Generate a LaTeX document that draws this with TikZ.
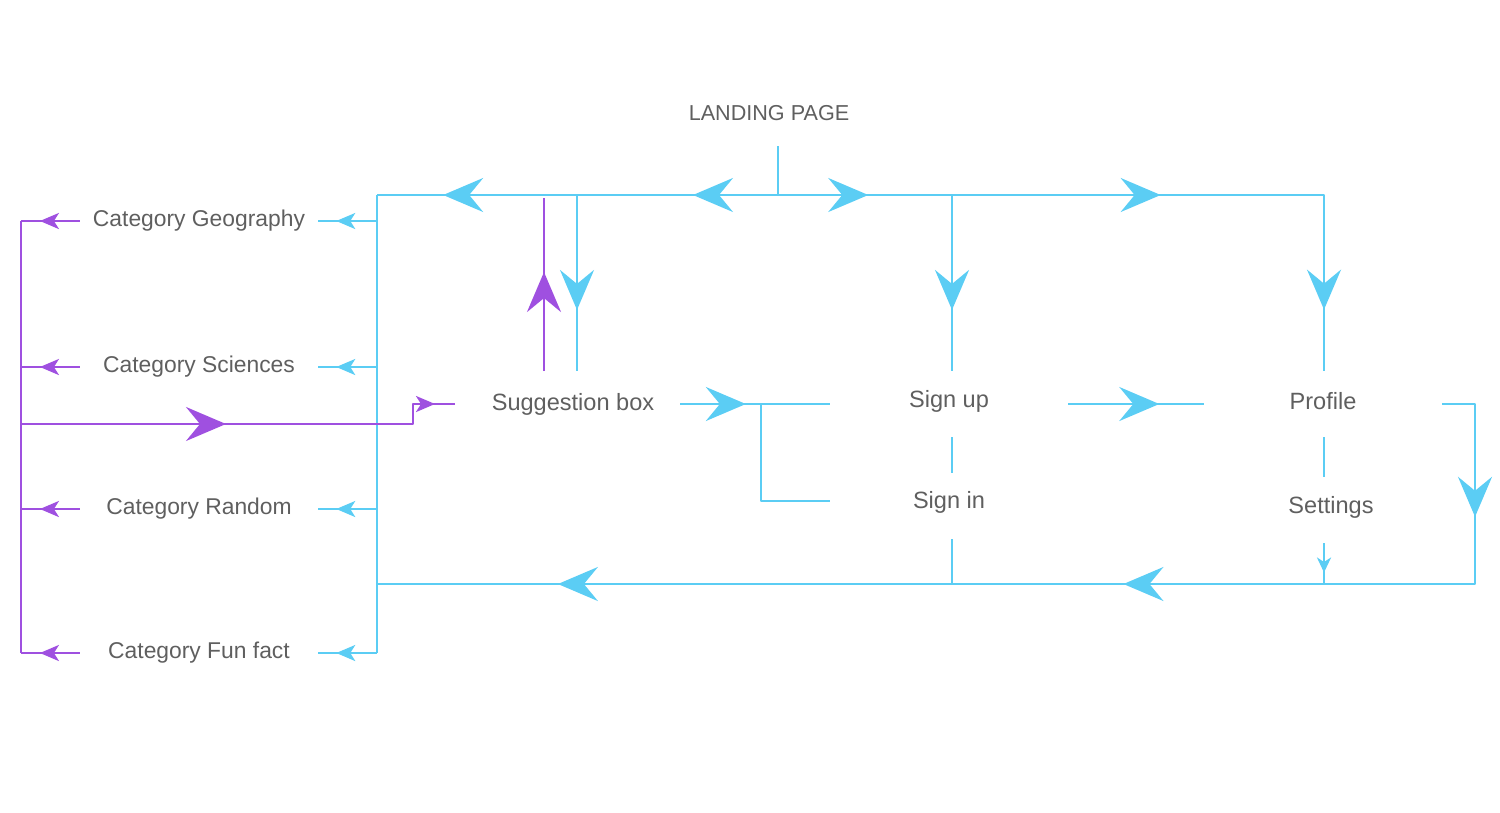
\documentclass[tikz,border=0pt]{standalone}
\usepackage{fontspec}
\setmainfont{Liberation Sans}
\usetikzlibrary{arrows.meta,decorations.markings,calc}
\definecolor{cB}{HTML}{5BCDF4}
\definecolor{cP}{HTML}{9F50E0}
\definecolor{txt}{HTML}{5F5F5F}
\tikzset{
  Big/.tip={Stealth[length=0.8cm,width=0.68cm,inset=0.28cm]},
  Sm/.tip={Stealth[length=0.38cm,width=0.32cm,inset=0.1cm]},
  Tiny/.tip={Stealth[length=0.3cm,width=0.28cm,inset=0.09cm]},
  bl/.style={draw=cB, line width=0.055cm, line join=round},
  pu/.style={draw=cP, line width=0.055cm, line join=round},
  mk/.style 2 args={postaction={decorate,decoration={markings,mark=at position #1 with {\arrow{#2}}}}},
  box/.style={minimum width=4.76cm, minimum height=1.32cm, inner sep=0pt, text=txt, font=\fontsize{13.4pt}{15pt}\selectfont},
  cat/.style={box, minimum height=1.0cm, font=\fontsize{13pt}{15pt}\selectfont},
}
\begin{document}
\begin{tikzpicture}[x=0.02cm,y=-0.02cm]
\useasboundingbox (0,0) rectangle (1500,812);
% nodes
\node[text=txt, font=\fontsize{12.3pt}{14pt}\selectfont] (land) at (769,113) {LANDING PAGE};
\node[cat] (geo) at (199,221) {Category Geography};
\node[cat] (sci) at (199,367) {Category Sciences};
\node[cat] (rnd) at (199,509) {Category Random};
\node[cat] (fun) at (199,653) {Category Fun fact};
\node[box, minimum width=4.5cm] (sugg) at (573,404) {Suggestion box};
\node[box] (signup) at (949,401) {Sign up};
\node[box] (signin) at (949,502) {Sign in};
\node[box] (profile) at (1323,401) {Profile};
\node[box] (settings) at (1331,507) {Settings};
% coordinates
\coordinate (stem) at (778,146);
\coordinate (j0) at (778,195);
\coordinate (jL) at (377,195);
\coordinate (jLb) at (377,653);
\coordinate (jSg) at (577,195);
\coordinate (sgB) at (577,371);
\coordinate (sgP) at (544,371);
\coordinate (sgPt) at (544,198);
\coordinate (sgW) at (455,404);
\coordinate (sgE) at (680,404);
\coordinate (jU) at (952,195);
\coordinate (jR) at (1324,195);
\coordinate (jS) at (761,404);
\coordinate (jSi) at (761,501);
\coordinate (jB1) at (952,584);
\coordinate (jB2) at (1324,584);
\coordinate (jPr) at (1475,404);
\coordinate (jPrb) at (1475,584);
\coordinate (jBL) at (377,584);
\coordinate (pT) at (21,221);
\coordinate (pB) at (21,653);
\coordinate (pM) at (21,424);
\coordinate (pS1) at (413,424);
\coordinate (pS2) at (413,404);
% blue connectors
\draw[bl] (stem) -- (j0);
\draw[bl, mk={0.212}{Big}, mk={0.835}{Big}] (j0) -- (jL);
\draw[bl] (jL) -- (jLb);
\draw[bl, mk={0.695}{Sm}] (jL |- geo) -- (geo.east);
\draw[bl, mk={0.695}{Sm}] (jL |- sci) -- (sci.east);
\draw[bl, mk={0.695}{Sm}] (jL |- rnd) -- (rnd.east);
\draw[bl, mk={0.695}{Sm}] (jLb) -- (fun.east);
\draw[bl, mk={0.653}{Big}] (jSg) -- (sgB);
\draw[bl, mk={0.125}{Big}, mk={0.530}{Big}, mk={0.915}{Big}] (j0) -- (jR) -- (jR |- sgB);
\draw[bl, mk={0.653}{Big}] (jU) -- (jU |- sgB);
\draw[bl, mk={0.44}{Big}] (sgE) -- (signup.west |- sgE);
\draw[bl] (jS) -- (jSi) -- (signin.west |- jSi);
\draw[bl, mk={0.672}{Big}] (signup.east |- sgE) -- (profile.west |- sgE);
\draw[bl] (jU |- 0,437) -- (jU |- 0,473);
\draw[bl] (jU |- 0,539) -- (jB1);
\draw[bl] (jR |- 0,437) -- (jR |- 0,477);
\draw[bl, mk={0.72}{Tiny}] (jR |- 0,543) -- (jB2);
\draw[bl, mk={0.111}{Big}, mk={0.4305}{Big}, mk={0.862}{Big}] (profile.east |- sgE) -- (jPr) -- (jPrb) -- (jBL);
% purple connectors
\draw[pu, mk={0.572}{Big}] (sgP) -- (sgPt);
\draw[pu, mk={0.678}{Sm}] (geo.west) -- (pT);
\draw[pu, mk={0.678}{Sm}] (sci.west) -- (pT |- sci);
\draw[pu, mk={0.678}{Sm}] (rnd.west) -- (pT |- rnd);
\draw[pu, mk={0.678}{Sm}] (fun.west) -- (pB);
\draw[pu] (pT) -- (pB);
\draw[pu, mk={0.4515}{Big}, mk={0.956}{Sm}] (pM) -- (pS1) -- (pS2) -- (sgW);
\end{tikzpicture}
\end{document}
